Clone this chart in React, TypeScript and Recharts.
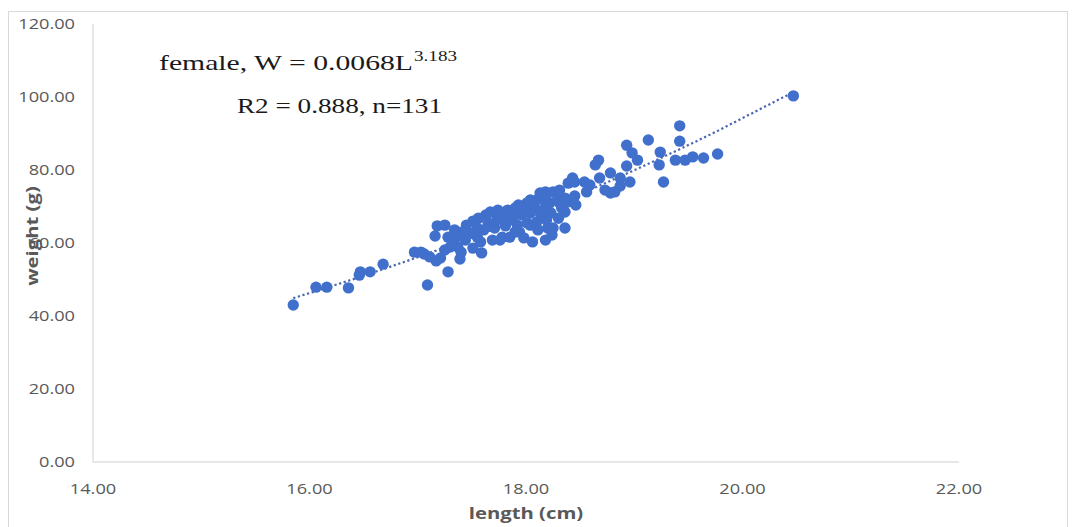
import React from 'react'
import {
  ScatterChart,
  Scatter,
  XAxis,
  YAxis,
  Customized,
} from 'recharts'

// fish length (cm) / weight (g), females, n = 131
const lengths = [
  15.85, 16.06, 16.16, 16.36, 16.46, 16.47, 16.56, 16.68, 16.97, 17.03,
  17.06, 17.11, 17.17, 17.09, 17.18, 17.16, 17.21, 17.28, 17.28, 17.35,
  17.3, 17.37, 17.4, 17.39, 17.45, 17.51, 17.55, 17.55, 17.58, 17.59,
  17.67, 17.74, 17.65, 17.73, 17.79, 17.85, 17.69, 17.78, 17.85, 17.93,
  18.01, 18.06, 17.88, 17.96, 18.04, 18.1, 18.18, 18.22, 17.92, 18.01,
  18.1, 18.19, 17.94, 18.13, 18.18, 18.25, 18.1, 18.29, 18.33, 18.36,
  18.06, 18.18, 18.25, 18.36, 18.31, 18.38, 18.39, 18.36, 18.43, 18.45,
  18.54, 18.56, 18.45, 18.67, 18.64, 18.68, 18.78, 18.87, 18.96, 18.73,
  18.78, 18.82, 18.93, 18.98, 19.03, 18.93, 19.13, 19.24, 19.23, 19.27,
  19.42, 19.42, 19.38, 19.47, 19.54, 19.64, 19.77, 20.47, 17.25, 17.34,
  17.44, 17.48, 17.61, 17.63, 17.71, 17.81, 17.83, 17.9, 17.98, 18.04,
  18.14, 18.23, 18.3, 18.18, 18.04, 17.9, 17.76, 17.51, 17.25, 18.24,
  18.46, 18.59, 18.87, 17.34, 17.41, 18.11, 18.2, 17.98, 18.31, 17.56,
  17.81,
]

const weights = [
  43.0, 47.9, 47.9, 47.7, 51.2, 52.1, 52.1, 54.2, 57.5, 57.5,
  57.0, 56.2, 55.1, 48.5, 64.7, 61.9, 55.9, 52.1, 61.6, 61.6,
  58.9, 58.9, 57.5, 55.6, 64.9, 66.0, 64.1, 61.6, 60.3, 57.3,
  68.5, 69.0, 65.5, 66.3, 67.1, 66.3, 60.8, 61.6, 61.6, 70.4,
  71.0, 69.9, 67.1, 67.7, 68.2, 69.0, 69.9, 71.0, 64.9, 65.5,
  65.8, 66.3, 63.0, 73.7, 74.0, 74.0, 71.8, 71.8, 69.6, 68.5,
  60.3, 60.8, 64.1, 64.1, 71.0, 71.2, 76.4, 72.3, 77.8, 76.7,
  76.7, 74.0, 72.9, 82.7, 81.4, 77.8, 79.2, 77.8, 76.7, 74.5,
  73.7, 74.0, 86.8, 84.7, 82.7, 81.1, 88.2, 84.9, 81.4, 76.7,
  92.1, 87.9, 82.7, 82.7, 83.6, 83.3, 84.4, 100.3, 64.9, 63.6,
  60.8, 62.7, 63.6, 67.7, 64.1, 64.7, 69.0, 69.6, 69.0, 64.9,
  67.7, 68.2, 66.8, 72.1, 71.8, 63.0, 60.8, 58.6, 58.1, 62.2,
  70.4, 75.9, 75.6, 59.5, 63.0, 63.6, 64.1, 61.4, 74.5, 66.8,
  67.4,
]

const xTicks = [14, 16, 18, 20, 22]
const yTicks = [0, 20, 40, 60, 80, 100, 120]

// power fit W = a * L^b
const fitA = 0.0068
const fitB = 3.183

const points = lengths.map((l, i) => ({ length: l, weight: weights[i] }))
const trend = [...lengths]
  .sort((a, b) => a - b)
  .map((l) => ({ length: l, weight: fitA * Math.pow(l, fitB) }))

const BLUE = '#4070CC'
const GREY = '#595959'
const SANS = '"Open Sans", sans-serif'
const SERIF = '"Liberation Serif", "Times New Roman", serif'
const SX = 1.3 // wide lettering

const YTick = ({ x, y, payload }: any) => (
  <g transform={`translate(${x},${y}) scale(${SX},1)`}>
    <text textAnchor="end" dy="0.36em" fontFamily={SANS} fontSize={14} fill={GREY}>
      {Number(payload.value).toFixed(2)}
    </text>
  </g>
)

const XTick = ({ x, y, payload }: any) => (
  <g transform={`translate(${x},${y}) scale(${SX},1)`}>
    <text textAnchor="middle" fontFamily={SANS} fontSize={14} fill={GREY}>
      {Number(payload.value).toFixed(2)}
    </text>
  </g>
)

const XTitle = ({ viewBox }: any) => (
  <g transform={`translate(${viewBox.x + viewBox.width / 2},${viewBox.y + 57}) scale(${SX},1)`}>
    <text textAnchor="middle" fontFamily={SANS} fontSize={15.6} fontWeight="bold" fill={GREY}>
      length (cm)
    </text>
  </g>
)

const YTitle = ({ viewBox }: any) => (
  <g transform={`translate(38,${viewBox.y + viewBox.height / 2 - 7}) rotate(-90) scale(${SX},1)`}>
    <text textAnchor="middle" fontFamily={SANS} fontSize={15.6} fontWeight="bold" fill={GREY}>
      weight (g)
    </text>
  </g>
)

const Equation = () => (
  <g fontFamily={SERIF} fill="#1a1a1a">
    <text x={159} y={70} fontSize={21} textLength={254} lengthAdjust="spacingAndGlyphs">
      female, W = 0.0068L
    </text>
    <text x={414} y={61} fontSize={15} textLength={43} lengthAdjust="spacingAndGlyphs">
      3.183
    </text>
    <text x={237} y={113} fontSize={21} textLength={205} lengthAdjust="spacingAndGlyphs">
      R2 = 0.888, n=131
    </text>
  </g>
)

const Dot = ({ cx, cy }: any) => <circle cx={cx} cy={cy} r={5.7} fill={BLUE} />

export default function App() {
  return (
    <div style={{ position: 'absolute', left: 0, top: 0, width: 1083, height: 527, background: '#fff', overflow: 'hidden' }}>
      <div
        style={{
          position: 'absolute',
          left: 8,
          top: 11,
          width: 1058,
          height: 540,
          border: '1px solid #d9d9d9',
        }}
      />
      <ScatterChart
        width={1083}
        height={527}
        margin={{ top: 24, right: 124, bottom: 0, left: 0 }}
        style={{ position: 'absolute', left: 0, top: 0 }}
      >
        <XAxis
          type="number"
          dataKey="length"
          domain={[14, 22]}
          ticks={xTicks}
          height={65}
          stroke="#d0d0d0"
          tickLine={false}
          tickSize={0}
          tickMargin={32}
          tick={<XTick />}
          label={<XTitle />}
        />
        <YAxis
          type="number"
          dataKey="weight"
          domain={[0, 120]}
          ticks={yTicks}
          width={93}
          stroke="#d0d0d0"
          tickLine={false}
          tickSize={0}
          tickMargin={18}
          tick={<YTick />}
          label={<YTitle />}
        />
        <Scatter
          data={trend}
          line={{ stroke: '#4a66b0', strokeWidth: 2.2, strokeDasharray: '2.2 2.6' }}
          lineType="joint"
          shape={() => <g />}
          isAnimationActive={false}
        />
        <Scatter data={points} fill={BLUE} shape={<Dot />} isAnimationActive={false} />
        <Customized component={Equation} />
      </ScatterChart>
    </div>
  )
}
